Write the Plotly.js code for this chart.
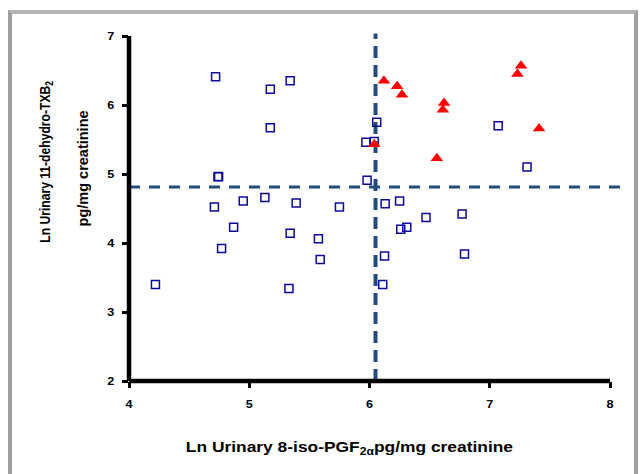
<!DOCTYPE html>
<html>
<head>
<meta charset="utf-8">
<script src="https://cdn.plot.ly/plotly-3.0.1.min.js"></script>
<style>
  html, body { margin: 0; padding: 0; background: #ffffff; }
  #wrap { position: relative; width: 641px; height: 474px; overflow: hidden; }
  #chart { width: 641px; height: 474px; }
  #frame { position: absolute; left: 8px; top: 10px; width: 630px; height: 520px;
           border: 4px solid #a0a0a0; border-top-color: #b4b4b4; pointer-events: none; box-sizing: border-box; }
  /* the reference is slightly stretched horizontally: widen the text a little */
  #chart g.xtick, #chart g.ytick { transform-box: fill-box; transform-origin: center; transform: scaleX(1.15); }
  #chart g.annotation[data-index="0"] text.annotation-text { transform-box: fill-box; transform-origin: center; transform: scaleX(1.2); }
  #chart g.annotation[data-index="1"] text.annotation-text { transform-box: fill-box; transform-origin: center; transform: scaleX(0.81); }
</style>
</head>
<body>
<div id="wrap">
  <div id="chart"></div>
  <div id="frame"></div>
</div>
<script>
// Low-group points (open squares)
const squareX = [4.72, 5.175, 5.34, 5.175, 4.74, 4.745, 4.71, 4.95, 5.13, 5.39, 5.75, 5.97, 5.98, 6.06, 6.04,
                 7.07, 7.31, 6.13, 6.25, 6.47, 6.77, 4.22, 4.87, 4.77, 5.34, 5.575, 5.59, 5.33, 6.31, 6.26,
                 6.125, 6.79, 6.11];
const squareY = [6.41, 6.23, 6.35, 5.67, 4.96, 4.965, 4.52, 4.61, 4.66, 4.58, 4.52, 5.46, 4.91, 5.75, 5.47,
                 5.70, 5.10, 4.57, 4.61, 4.37, 4.42, 3.40, 4.23, 3.92, 4.14, 4.06, 3.76, 3.34, 4.23, 4.20,
                 3.81, 3.84, 3.40];
// High-group points (filled red triangles)
const triX = [6.12, 6.23, 6.27, 6.62, 6.61, 7.26, 7.23, 7.41, 6.56, 6.04];
const triY = [6.35, 6.27, 6.15, 6.03, 5.93, 6.57, 6.45, 5.66, 5.23, 5.43];

// Threshold (cut-off) lines
const xThreshold = 6.05;
const yThreshold = 4.81;

// Axes
const xRange = [4, 8];
const yRange = [2, 7];
const xTicks = [4, 5, 6, 7, 8];
const yTicks = [2, 3, 4, 5, 6, 7];

const xTitle = 'Ln Urinary 8-iso-PGF<sub>2α</sub>pg/mg creatinine';
const yTitle1 = 'Ln Urinary 11-dehydro-TXB<sub>2</sub>';
const yTitle2 = 'pg/mg creatinine';

const FONT = 'Arial, "Liberation Sans", sans-serif';
const dashBlue = '#234C7C';

const traces = [
  {
    type: 'scatter', mode: 'markers', x: squareX, y: squareY,
    marker: { symbol: 'square-open', size: 8, color: '#0a0a9a', line: { width: 1.5, color: '#0a0a9a' } },
    cliponaxis: false, hoverinfo: 'x+y', showlegend: false
  },
  {
    type: 'scatter', mode: 'markers', x: triX, y: triY,
    marker: { symbol: 'triangle-up', size: 11, color: '#ff0000', line: { width: 0 } },
    cliponaxis: false, hoverinfo: 'x+y', showlegend: false
  }
];

const xp = v => (v - xRange[0]) / (xRange[1] - xRange[0]);
const yp = v => (v - yRange[0]) / (yRange[1] - yRange[0]);

const layout = {
  width: 641, height: 474,
  margin: { l: 129, r: 31, t: 36, b: 93, pad: 0 },
  paper_bgcolor: '#ffffff',
  plot_bgcolor: 'rgba(0,0,0,0)',
  font: { family: FONT, color: '#000000' },
  showlegend: false,
  xaxis: {
    range: xRange, tickmode: 'array', tickvals: xTicks, ticktext: xTicks.map(String),
    showgrid: false, zeroline: false, showline: false,
    ticks: 'outside', ticklen: 6, tickwidth: 3, tickcolor: '#000000',
    ticklabelstandoff: 7,
    tickfont: { family: FONT, size: 11, weight: 'bold', color: '#000000' }
  },
  yaxis: {
    range: yRange, tickmode: 'array', tickvals: yTicks, ticktext: yTicks.map(String),
    showgrid: false, zeroline: false, showline: false,
    ticks: 'outside', ticklen: 6, tickwidth: 3, tickcolor: '#000000',
    ticklabelstandoff: 6,
    tickfont: { family: FONT, size: 11, weight: 'bold', color: '#000000' }
  },
  shapes: [
    // horizontal cut-off
    { type: 'line', xref: 'paper', yref: 'paper', x0: 0, x1: 1.027, y0: yp(yThreshold), y1: yp(yThreshold),
      layer: 'below', line: { color: dashBlue, width: 3, dash: '11px,9px' } },
    // vertical cut-off
    { type: 'line', xref: 'paper', yref: 'paper', x0: xp(xThreshold), x1: xp(xThreshold), y0: 0, y1: 1.007,
      layer: 'below', line: { color: dashBlue, width: 4, dash: '12px,7px' } },
    // axis lines
    { type: 'line', xref: 'paper', yref: 'paper', x0: 0, x1: 1, y0: 0, y1: 0,
      layer: 'above', line: { color: '#000000', width: 4.5 } },
    { type: 'line', xref: 'paper', yref: 'paper', x0: 0, x1: 0, y0: 0, y1: 1,
      layer: 'above', line: { color: '#000000', width: 4.5 } }
  ],
  annotations: [
    { text: xTitle, xref: 'paper', yref: 'paper', x: 0.4584, y: -0.194, xanchor: 'center', yanchor: 'middle',
      showarrow: false, font: { family: FONT, size: 14.5, weight: 'bold', color: '#000000' } },
    { text: yTitle1, xref: 'paper', yref: 'paper', x: -0.1726, y: 0.635, xanchor: 'center', yanchor: 'middle',
      textangle: -90, showarrow: false, font: { family: FONT, size: 15, weight: 'bold', color: '#000000' } },
    { text: yTitle2, xref: 'paper', yref: 'paper', x: -0.0936, y: 0.616, xanchor: 'center', yanchor: 'middle',
      textangle: -90, showarrow: false, font: { family: FONT, size: 14.5, weight: 'bold', color: '#000000' } }
  ]
};

Plotly.newPlot('chart', traces, layout, { displayModeBar: false, staticPlot: true });
</script>
</body>
</html>
